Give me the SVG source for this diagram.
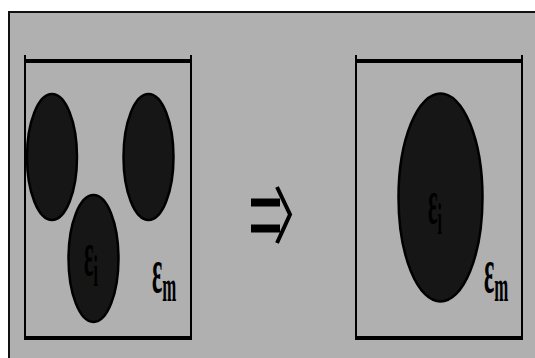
<svg xmlns="http://www.w3.org/2000/svg" width="535" height="358" viewBox="0 0 535 358">
<style>
.grain{fill:#161616;stroke:#000;stroke-width:2.5}
.wall{stroke:#000;stroke-width:2;fill:none}
.lid{stroke:#000;stroke-width:4;fill:none}
.lbl{font-family:"Liberation Serif",serif;font-weight:bold;font-size:30px}
.sub{font-size:21px}
</style>
<rect x="0" y="0" width="535" height="358" fill="#fff"/>
<rect x="9" y="12" width="530" height="350" fill="#b0b0b0" stroke="#111" stroke-width="2"/>
<g id="box-left">
<line class="wall" x1="25" y1="55" x2="25" y2="340"/>
<line class="wall" x1="191" y1="55" x2="191" y2="340"/>
<line class="lid" x1="25" y1="61" x2="191" y2="61"/>
<line class="lid" x1="25" y1="338" x2="191" y2="338"/>
<ellipse class="grain" cx="52" cy="157" rx="25" ry="63"/>
<ellipse class="grain" cx="148.5" cy="157" rx="25" ry="63"/>
<ellipse class="grain" cx="93.5" cy="258.5" rx="25" ry="63.5"/>
<text class="lbl" fill="#000" transform="translate(84,275) scale(0.75,2.1)">ε<tspan class="sub" dy="5">i</tspan></text>
<text class="lbl" fill="#000" transform="translate(152,292) scale(0.8,2.1)">ε<tspan class="sub" dy="4.5">m</tspan></text>
</g>
<g id="connectors">
<line x1="251" y1="202.5" x2="280" y2="202.5" stroke="#000" stroke-width="8"/>
<line x1="251" y1="228.5" x2="280" y2="228.5" stroke="#000" stroke-width="8"/>
<polyline points="277,187 290,214.5 277,243" fill="none" stroke="#000" stroke-width="4"/>
</g>
<g id="box-right">
<line class="wall" x1="356" y1="55" x2="356" y2="340"/>
<line class="wall" x1="522" y1="55" x2="522" y2="340"/>
<line class="lid" x1="356" y1="61" x2="522" y2="61"/>
<line class="lid" x1="356" y1="338" x2="522" y2="338"/>
<ellipse class="grain" cx="440.5" cy="197.5" rx="42" ry="104"/>
<text class="lbl" fill="#000" transform="translate(428,223) scale(0.75,2.1)">ε<tspan class="sub" dy="5">i</tspan></text>
<text class="lbl" fill="#000" transform="translate(484,292) scale(0.8,2.1)">ε<tspan class="sub" dy="4.5">m</tspan></text>
</g>
</svg>
